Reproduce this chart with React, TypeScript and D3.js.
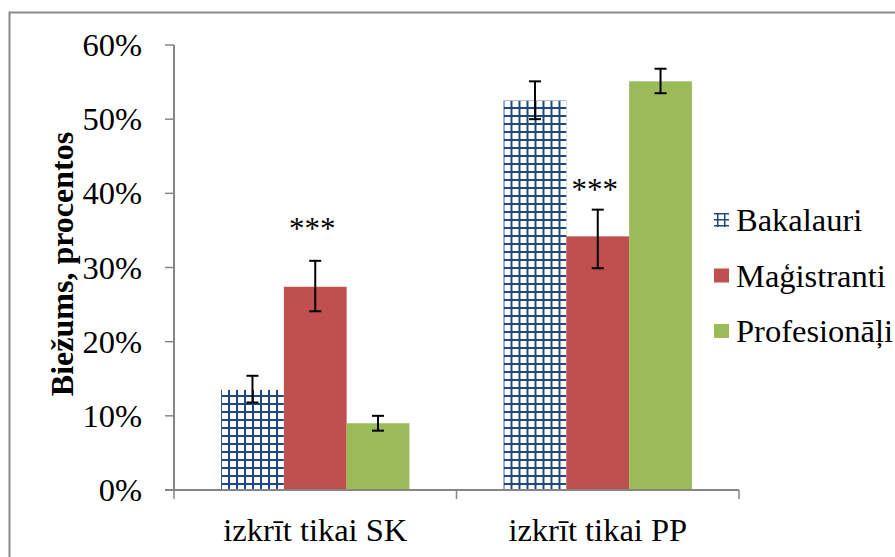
import React from "react";
import * as d3 from "d3";

const categories = ["izkrīt tikai SK", "izkrīt tikai PP"];
const seriesNames = ["Bakalauri", "Maģistranti", "Profesionāļi"];
const bakalauri = [0.135, 0.525];
const magistranti = [0.274, 0.342];
const profesionali = [0.090, 0.551];
const bakalauriErr = [[0.118, 0.154], [0.500, 0.551]];
const magistrantiErr = [[0.241, 0.309], [0.299, 0.378]];
const profesionaliErr = [[0.080, 0.100], [0.535, 0.568]];
const yTicks = [0, 0.1, 0.2, 0.3, 0.4, 0.5, 0.6];
const annotations = [
  { category: "izkrīt tikai SK", series: "Maģistranti", at: 0.338, text: "***" },
  { category: "izkrīt tikai PP", series: "Maģistranti", at: 0.391, text: "***" },
];

const W = 895;
const H = 557;
const left = 174;
const right = 739;
const top = 45;
const bottom = 490;

const NAVY = "#1F497D";
const RED = "#C0504D";
const GREEN = "#9BBB59";
const AXIS = "#868686";
const FONT = "'Liberation Serif', 'Times New Roman', serif";
const FS = 32.5;

export default function App() {
  const values = [bakalauri, magistranti, profesionali];
  const errs = [bakalauriErr, magistrantiErr, profesionaliErr];
  const fills = ["url(#gridPat)", RED, GREEN];

  const y = d3.scaleLinear().domain([0, 0.6]).range([bottom, top]);
  const x0 = d3.scaleBand<string>().domain(categories).range([left, right]).paddingInner(0).paddingOuter(0);
  const catW = x0.bandwidth();
  const barW = catW / 4.5;
  const gap = (catW - 3 * barW) / 2;
  const x1 = d3.scaleBand<string>().domain(seriesNames).range([gap, catW - gap]).padding(0);

  const fmt = d3.format(".0%");
  const capW = 12;

  return (
    <div style={{ position: "absolute", left: 0, top: 0 }}>
      <svg width={W} height={H} style={{ display: "block", background: "#fff" }}>
        <defs>
          <pattern id="gridPat" patternUnits="userSpaceOnUse" width={8} height={8} x={221} y={389}>
            <rect width={8} height={8} fill="#fff" />
            <rect x={1} y={0} width={2} height={8} fill={NAVY} />
            <rect x={0} y={6} width={8} height={2} fill={NAVY} />
          </pattern>
          <pattern id="gridLeg" patternUnits="userSpaceOnUse" width={7} height={6} x={713} y={213}>
            <rect width={7} height={6} fill="#fff" />
            <rect x={4} y={0} width={1.5} height={6} fill={NAVY} />
            <rect x={0} y={0} width={7} height={1.5} fill={NAVY} />
          </pattern>
        </defs>

        <rect x={9.5} y={12.5} width={W + 20} height={H + 20} fill="none" stroke="#898989" strokeWidth={2} />

        {categories.map((c, ci) => (
          <g key={c} transform={`translate(${x0(c)},0)`}>
            {seriesNames.map((s, si) => {
              const v = values[si][ci];
              return (
                <rect
                  key={s}
                  x={x1(s)}
                  y={y(v)}
                  width={x1.bandwidth()}
                  height={y(0) - y(v)}
                  fill={fills[si]}
                />
              );
            })}
          </g>
        ))}

        <line x1={left} x2={left} y1={top} y2={bottom} stroke={AXIS} strokeWidth={2} />
        <line x1={left - 9} x2={right} y1={bottom} y2={bottom} stroke={AXIS} strokeWidth={2} />
        {yTicks.map((t) => (
          <g key={t}>
            <line x1={left - 9} x2={left} y1={y(t)} y2={y(t)} stroke={AXIS} strokeWidth={1.5} />
            <text x={142} y={y(t)} dy="0.34em" textAnchor="end" fontFamily={FONT} fontSize={FS} fill="#000">
              {fmt(t)}
            </text>
          </g>
        ))}
        {[...categories.map((c) => x0(c) as number), right].map((xx, i) => (
          <line key={i} x1={xx} x2={xx} y1={bottom} y2={bottom + 9} stroke={AXIS} strokeWidth={1.5} />
        ))}
        {categories.map((c) => (
          <text
            key={c}
            x={(x0(c) as number) + catW / 2}
            y={541}
            textAnchor="middle"
            fontFamily={FONT}
            fontSize={FS}
            fill="#000"
          >
            {c}
          </text>
        ))}

        {categories.map((c, ci) =>
          seriesNames.map((s, si) => {
            const cx = (x0(c) as number) + (x1(s) as number) + x1.bandwidth() / 2;
            const [lo, hi] = errs[si][ci];
            return (
              <g key={c + s} stroke="#000" strokeWidth={2}>
                <line x1={cx} x2={cx} y1={y(lo)} y2={y(hi)} />
                <line x1={cx - capW / 2} x2={cx + capW / 2} y1={y(lo)} y2={y(lo)} />
                <line x1={cx - capW / 2} x2={cx + capW / 2} y1={y(hi)} y2={y(hi)} />
              </g>
            );
          })
        )}

        {annotations.map((a, i) => (
          <text
            key={i}
            x={(x0(a.category) as number) + (x1(a.series) as number) + x1.bandwidth() / 2 - 3}
            y={y(a.at)}
            textAnchor="middle"
            fontFamily={FONT}
            fontSize={31}
            fill="#000"
          >
            {a.text}
          </text>
        ))}

        <text
          transform="translate(73,264) rotate(-90)"
          textAnchor="middle"
          fontFamily={FONT}
          fontWeight="bold"
          fontSize={32}
          fill="#000"
        >
          Biežums, procentos
        </text>

        {seriesNames.map((s, i) => {
          const cy = 220 + i * 55.5;
          return (
            <g key={s}>
              <rect
                x={714}
                y={cy - 7}
                width={15}
                height={14}
                fill={i === 0 ? "url(#gridLeg)" : fills[i]}
              />
              <text x={736} y={cy} dy="0.34em" fontFamily={FONT} fontSize={FS} fill="#000">
                {s}
              </text>
            </g>
          );
        })}
      </svg>
    </div>
  );
}
